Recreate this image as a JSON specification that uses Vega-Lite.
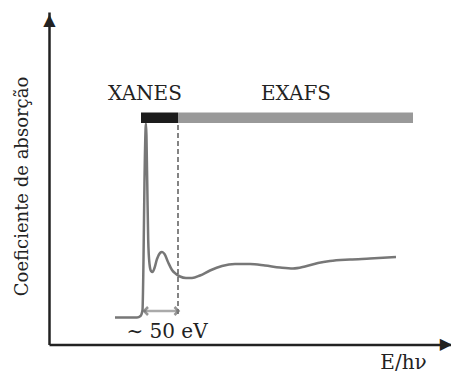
{
  "$schema": "https://vega.github.io/schema/vega-lite/v6.json",
  "width": 402,
  "height": 332.5,
  "autosize": {"type": "none"},
  "padding": {"left": 49, "top": 12, "right": 0, "bottom": 27.5},
  "background": "white",
  "config": {"view": {"stroke": null}},
  "encoding": {
    "x": {
      "field": "x", "type": "quantitative",
      "scale": {"domain": [0, 402], "nice": false, "zero": false},
      "axis": {
        "domain": true, "domainColor": "#222", "domainWidth": 2.5,
        "ticks": false, "labels": false, "grid": false,
        "title": "E/hν", "titleFont": "DejaVu Serif", "titleFontSize": 20,
        "titleFontWeight": "normal", "titleColor": "#222",
        "titleX": 354, "titleY": 23.5, "titleAlign": "center", "titleBaseline": "alphabetic"
      }
    },
    "y": {
      "field": "y", "type": "quantitative",
      "scale": {"domain": [0, 332.5], "nice": false, "zero": false},
      "axis": {
        "domain": true, "domainColor": "#222", "domainWidth": 2.5,
        "ticks": false, "labels": false, "grid": false,
        "title": "Coeficiente de absorção", "titleFont": "DejaVu Serif", "titleFontSize": 18,
        "titleFontWeight": "normal", "titleColor": "#222",
        "titleX": -27, "titleY": 174, "titleAngle": 270, "titleAlign": "center", "titleBaseline": "middle"
      }
    }
  },
  "layer": [
    {
      "data": {"values": [
        {"x": 66, "y": 27}, {"x": 88, "y": 27}, {"x": 91.5, "y": 28.5}, {"x": 93.5, "y": 34.5},
        {"x": 94.5, "y": 84.5}, {"x": 95.5, "y": 164.5}, {"x": 97, "y": 221},
        {"x": 98.2, "y": 164.5}, {"x": 99.2, "y": 104.5}, {"x": 100.5, "y": 80.5},
        {"x": 102, "y": 73.5}, {"x": 103.5, "y": 72.5}, {"x": 105.5, "y": 76.5},
        {"x": 108, "y": 85.5}, {"x": 111, "y": 91.5}, {"x": 113, "y": 92.5},
        {"x": 115.5, "y": 90.5}, {"x": 119, "y": 82.5}, {"x": 123, "y": 74.5},
        {"x": 127, "y": 70.5}, {"x": 131, "y": 68}, {"x": 137, "y": 66.5},
        {"x": 143, "y": 66.5}, {"x": 151, "y": 69}, {"x": 161, "y": 74},
        {"x": 173, "y": 78.5}, {"x": 186, "y": 80.5}, {"x": 201, "y": 80.5},
        {"x": 216, "y": 79}, {"x": 231, "y": 77}, {"x": 244, "y": 76},
        {"x": 256, "y": 78}, {"x": 269, "y": 81.5}, {"x": 281, "y": 83.5},
        {"x": 301, "y": 85}, {"x": 321, "y": 86}, {"x": 347, "y": 87.5}
      ]},
      "mark": {"type": "line", "color": "#777777", "strokeWidth": 2.5, "interpolate": "monotone"}
    },
    {
      "data": {"values": [
        {"part": "XANES", "x": 92, "x2": 129, "y": 221.5, "y2": 232},
        {"part": "EXAFS", "x": 129, "x2": 364, "y": 221.5, "y2": 232}
      ]},
      "mark": {"type": "rect"},
      "encoding": {
        "x2": {"field": "x2"},
        "y2": {"field": "y2"},
        "color": {"field": "part", "type": "nominal",
          "scale": {"domain": ["XANES", "EXAFS"], "range": ["#1c1c1c", "#999999"]},
          "legend": null}
      }
    },
    {
      "data": {"values": [{"x": 129, "y": 30.5, "y2": 221.5}]},
      "mark": {"type": "rule", "color": "#333333", "strokeWidth": 1.2, "strokeDash": [5, 3]},
      "encoding": {"y2": {"field": "y2"}}
    },
    {
      "data": {"values": [{"x": 95, "x2": 129.5, "y": 33.5}]},
      "mark": {"type": "rule", "color": "#aaaaaa", "strokeWidth": 2.5},
      "encoding": {"x2": {"field": "x2"}}
    },
    {
      "data": {"values": [{"x": 95, "y": 33.5}]},
      "mark": {"type": "point", "shape": "M 1 -1 L 0 0 L 1 1", "filled": false, "color": "dimgray", "strokeWidth": 2.5, "size": 64}
    },
    {
      "data": {"values": [{"x": 129.5, "y": 33.5}]},
      "mark": {"type": "point", "shape": "M -1 -1 L 0 0 L -1 1", "filled": false, "color": "dimgray", "strokeWidth": 2.5, "size": 64}
    },
    {
      "data": {"values": [{"glyph": "▲", "x": 0.3, "y": 325}]},
      "mark": {"type": "text", "font": "DejaVu Sans", "fontSize": 16, "color": "#222222", "align": "center", "baseline": "middle"},
      "encoding": {"text": {"field": "glyph"}}
    },
    {
      "data": {"values": [{"glyph": "▶", "x": 397, "y": 0.5}]},
      "mark": {"type": "text", "font": "DejaVu Sans", "fontSize": 16, "color": "#222222", "align": "center", "baseline": "middle"},
      "encoding": {"text": {"field": "glyph"}}
    },
    {
      "data": {"values": [
        {"label": "XANES", "x": 96, "y": 245},
        {"label": "EXAFS", "x": 247, "y": 245},
        {"label": "∼ 50 eV", "x": 118, "y": 6.5}
      ]},
      "mark": {"type": "text", "font": "DejaVu Serif", "fontSize": 20, "color": "#222222", "align": "center", "baseline": "alphabetic"},
      "encoding": {"text": {"field": "label"}}
    }
  ]
}
